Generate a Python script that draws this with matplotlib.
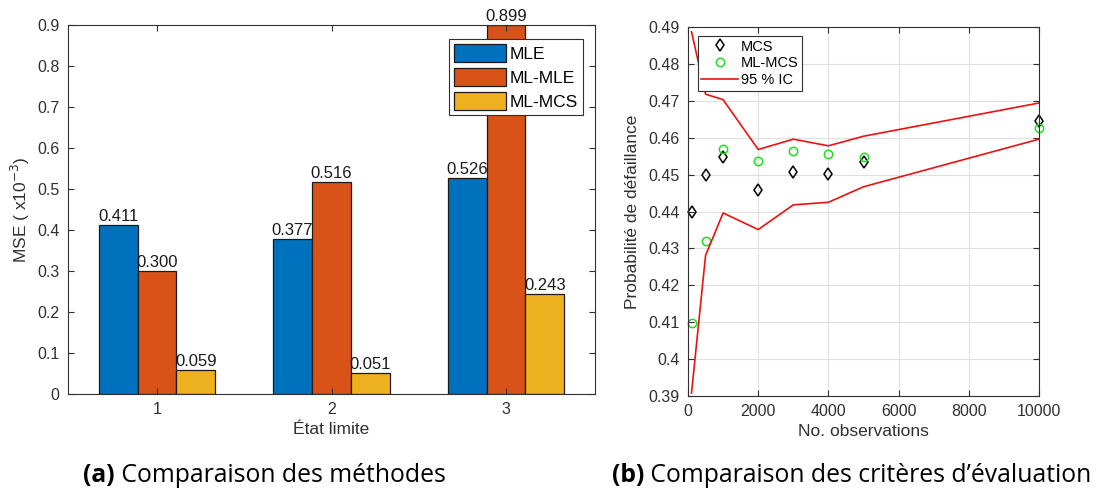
import numpy as np
import matplotlib.pyplot as plt

plt.rcParams['font.family'] = ['Liberation Sans', 'DejaVu Sans']

# (a) bar data
etats = [1, 2, 3]
methodes = ['MLE', 'ML-MLE', 'ML-MCS']
mse_mle = [0.411, 0.377, 0.526]
mse_mlmle = [0.300, 0.516, 0.899]
mse_mlmcs = [0.059, 0.051, 0.243]

# (b) convergence data
n_obs = [100, 500, 1000, 2000, 3000, 4000, 5000, 10000]
p_mcs = [0.4398, 0.4500, 0.4549, 0.4458, 0.4506, 0.4501, 0.4534, 0.4645]
p_mlmcs = [0.4099, 0.4319, 0.4569, 0.4538, 0.4565, 0.4556, 0.4549, 0.4625]
ic_haut = [0.4887, 0.4718, 0.4703, 0.4568, 0.4596, 0.4578, 0.4604, 0.4694]
ic_bas = [0.3908, 0.4281, 0.4396, 0.4351, 0.4418, 0.4425, 0.4467, 0.4596]

gris = '#303030'
W, H = 1102, 491
fig = plt.figure(figsize=(W / 100, H / 100), dpi=100)

def boite(x0, x1, y0, y1):
    # pixel box -> figure fraction
    return [x0 / W, 1 - y1 / H, (x1 - x0) / W, (y1 - y0) / H]

# --- left chart
ax1 = fig.add_axes(boite(68, 595, 25, 394))
couleurs = ['#0072BD', '#D95319', '#EDB120']
series = [mse_mle, mse_mlmle, mse_mlmcs]
x = np.array(etats)
w = 0.223
for i, (vals, c, nom) in enumerate(zip(series, couleurs, methodes)):
    pos = x + (i - 1) * w
    ax1.bar(pos, vals, w, color=c, edgecolor='#1a1a1a', linewidth=0.9, label=nom)
    for p, v in zip(pos, vals):
        ax1.text(p, v + 0.003, '%.3f' % v, ha='center', va='bottom',
                 fontsize=12, color='#1a1a1a', clip_on=False)
ax1.set_xlim(0.49, 3.51)
ax1.set_ylim(0, 0.9)
ax1.set_xticks(etats)
yt1 = np.arange(0, 0.91, 0.1)
ax1.set_yticks(yt1)
ax1.set_yticklabels(['%g' % round(v, 1) for v in yt1])
ax1.set_xlabel('État limite', fontsize=12.5, color=gris, labelpad=3)
ax1.set_ylabel('MSE ( x10$^{-3}$)', fontsize=12.5, color=gris, labelpad=4)
ax1.tick_params(direction='in', labelsize=11.5, colors=gris, top=True, right=True,
                length=4, pad=6)
for s in ax1.spines.values():
    s.set_color(gris)
    s.set_linewidth(0.8)
leg1 = ax1.legend(loc='upper right', bbox_to_anchor=(0.9775, 0.962), fontsize=12.5,
                  handlelength=3.0, handleheight=1.2, handletextpad=0.2,
                  borderpad=0.3, labelspacing=0.35, borderaxespad=0.0,
                  fancybox=False, framealpha=1, edgecolor=gris)
leg1.get_frame().set_linewidth(0.8)

# --- right chart
ax2 = fig.add_axes(boite(688, 1039, 27, 396))
ax2.plot(n_obs, p_mcs, linestyle='none', marker='d', markersize=6.5, clip_on=False,
         markerfacecolor='none', markeredgecolor='black', markeredgewidth=1.1, label='MCS')
ax2.plot(n_obs, p_mlmcs, linestyle='none', marker='o', markersize=6, clip_on=False,
         markerfacecolor='none', markeredgecolor='#22dd22', markeredgewidth=1.1, label='ML-MCS')
ax2.plot(n_obs, ic_haut, color='#ee1111', linewidth=1.2, label='95 % IC')
ax2.plot(n_obs, ic_bas, color='#ee1111', linewidth=1.2)
ax2.set_xlim(0, 10000)
ax2.set_ylim(0.39, 0.49)
yt2 = np.arange(0.39, 0.4901, 0.01)
ax2.set_yticks(yt2)
ax2.set_yticklabels(['%g' % round(v, 2) for v in yt2])
ax2.set_xticks(np.arange(0, 10001, 2000))
ax2.grid(True, color='#e0e0e0', linewidth=0.8)
ax2.set_axisbelow(True)
ax2.set_xlabel('No. observations', fontsize=12.5, color=gris, labelpad=3)
ax2.set_ylabel('Probabilité de défaillance', fontsize=12.5, color=gris, labelpad=6)
ax2.tick_params(direction='in', labelsize=11.5, colors=gris, top=True, right=True,
                length=4, pad=6)
for s in ax2.spines.values():
    s.set_color(gris)
    s.set_linewidth(0.8)
leg2 = ax2.legend(loc='upper left', bbox_to_anchor=(0.028, 0.976), fontsize=10.5,
                  handlelength=2.5, handletextpad=0.2, borderpad=0.25,
                  labelspacing=0.2, borderaxespad=0.0,
                  fancybox=False, framealpha=1, edgecolor=gris)
leg2.get_frame().set_linewidth(0.8)

# captions: bold tag followed by normal text
rend = fig.canvas.get_renderer()
police = ['Open Sans', 'DejaVu Sans']
for x0, tag, texte in [(83, '(a)', ' Comparaison des méthodes'),
                       (612, '(b)', ' Comparaison des critères d’évaluation')]:
    t = fig.text(x0 / W, 1 - 476 / H, tag, ha='left', va='center', fontsize=17.8,
                 fontweight='bold', family=police)
    bb = t.get_window_extent(renderer=rend)
    fig.text(bb.x1 / W, 1 - 476 / H, texte, ha='left', va='center', fontsize=17.8,
             family=police)

fig.savefig('out.png', dpi=100)
